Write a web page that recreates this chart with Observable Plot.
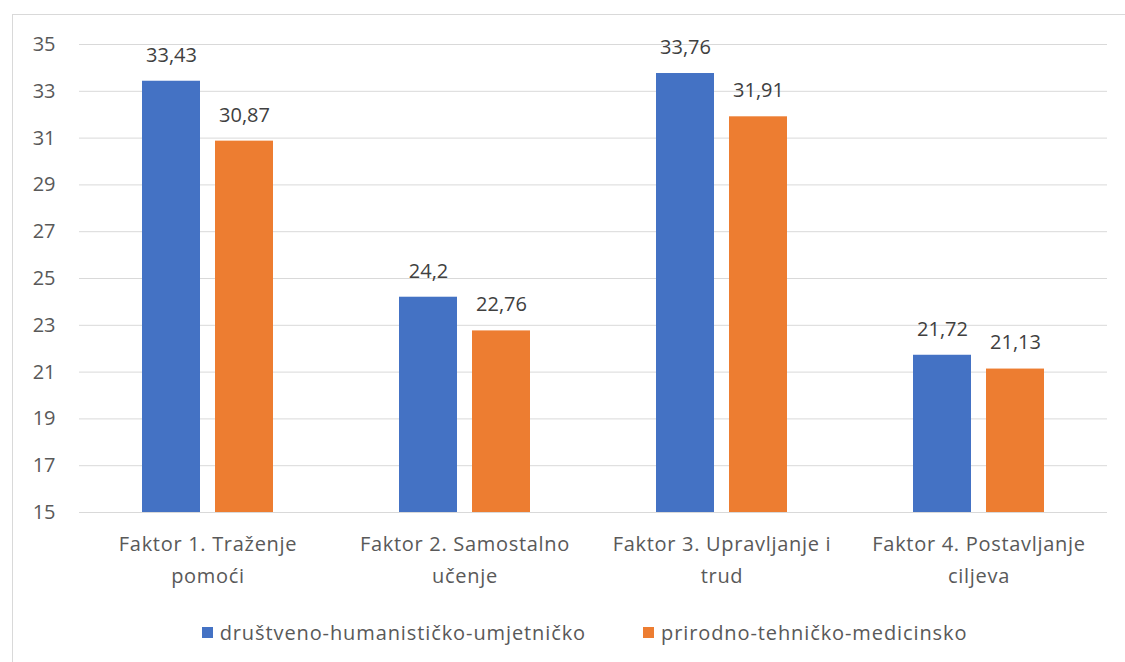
<!DOCTYPE html>
<html>
<head>
<meta charset="utf-8">
<script src="https://cdn.jsdelivr.net/npm/d3@7"></script>
<script src="https://cdn.jsdelivr.net/npm/@observablehq/plot@0.6"></script>
<style>
  html, body { margin: 0; padding: 0; background: #fff; }
  #wrap { position: relative; width: 1125px; height: 662px; overflow: hidden; background: #fff; font-family: "Open Sans", sans-serif; }
  #frame { position: absolute; left: 12px; top: 14px; width: 1200px; height: 800px; border: 1px solid #d9d9d9; box-sizing: border-box; }
  #chart { position: absolute; left: 0; top: 0; }
  #legend { position: absolute; left: 69px; width: 1031px; top: 619px; display: flex; justify-content: center; gap: 57px; font-size: 20px; letter-spacing: 0.9px; color: #595959; }
  .item { display: flex; align-items: center; }
  .sw { width: 11px; height: 11px; margin-right: 7px; }
  .xlab { letter-spacing: 0.7px; }
</style>
</head>
<body>
<div id="wrap">
  <div id="frame"></div>
  <div id="chart"></div>
  <div id="legend"></div>
</div>
<script>
const categories = ["Faktor 1. Traženje pomoći", "Faktor 2. Samostalno učenje", "Faktor 3. Upravljanje i trud", "Faktor 4. Postavljanje ciljeva"];
const categoryLabels = ["Faktor 1. Traženje\npomoći", "Faktor 2. Samostalno\nučenje", "Faktor 3. Upravljanje i\ntrud", "Faktor 4. Postavljanje\nciljeva"];
const seriesNames = ["društveno-humanističko-umjetničko", "prirodno-tehničko-medicinsko"];
const seriesA = [33.43, 24.2, 33.76, 21.72];
const seriesB = [30.87, 22.76, 31.91, 21.13];
const yTicks = [15, 17, 19, 21, 23, 25, 27, 29, 31, 33, 35];
const colors = ["#4472C4", "#ED7D31"];

const data = [];
categories.forEach((c, i) => {
  data.push({cat: c, series: seriesNames[0], value: seriesA[i]});
  data.push({cat: c, series: seriesNames[1], value: seriesB[i]});
});
const labelRows = categories.map((c, i) => ({cat: c, label: categoryLabels[i]}));
const fmt = v => String(v).replace(".", ",");

const chart = Plot.plot({
  width: 1125,
  height: 600,
  marginTop: 44,
  marginBottom: 88,
  marginLeft: 77,
  marginRight: 17,
  style: {fontFamily: "Open Sans, sans-serif", fontSize: "20px", color: "#595959", background: "transparent"},
  fx: {domain: categories, padding: 0, axis: null, label: null},
  x: {domain: seriesNames, paddingInner: 0.21, paddingOuter: 0.86, axis: null},
  y: {domain: [15, 35], axis: null},
  color: {domain: seriesNames, range: colors},
  marks: [
    Plot.gridY(yTicks, {stroke: "#d9d9d9", strokeOpacity: 1, strokeWidth: 1}),
    Plot.axisY(yTicks, {tickSize: 0, tickPadding: 24, label: null, fill: "#595959"}),
    Plot.barY(data, {fx: "cat", x: "series", y1: 15, y2: "value", fill: "series"}),
    Plot.text(data, {fx: "cat", x: "series", y: "value", text: d => fmt(d.value), lineAnchor: "middle", dy: -26, fill: "#404040"}),
    Plot.text(labelRows, {fx: "cat", text: "label", frameAnchor: "bottom", lineAnchor: "top", dy: 16, lineHeight: 1.6, fill: "#595959", className: "xlab"})
  ]
});
document.getElementById("chart").appendChild(chart);

const legend = document.getElementById("legend");
seriesNames.forEach((s, i) => {
  const item = document.createElement("div");
  item.className = "item";
  const sw = document.createElement("div");
  sw.className = "sw";
  sw.style.background = colors[i];
  const t = document.createElement("span");
  t.textContent = s;
  item.appendChild(sw);
  item.appendChild(t);
  legend.appendChild(item);
});
</script>
</body>
</html>
